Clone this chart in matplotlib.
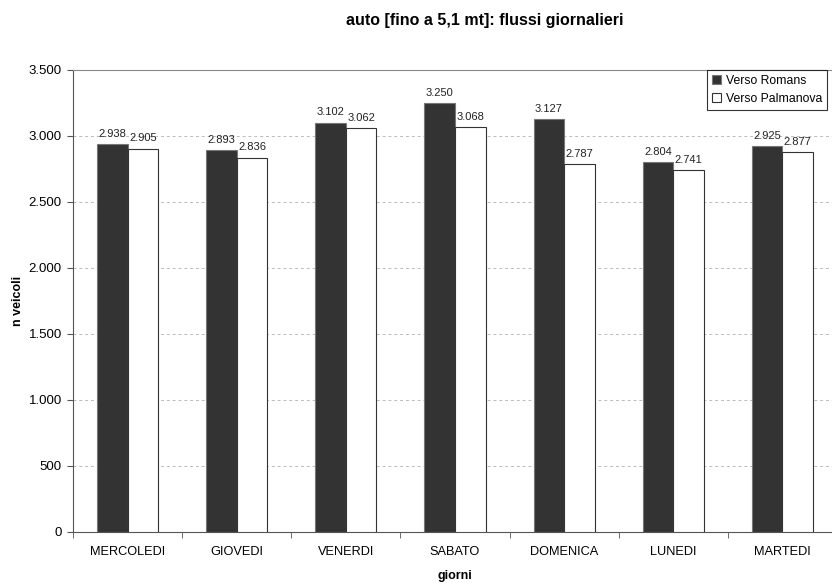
import matplotlib.pyplot as plt
import numpy as np
from matplotlib.ticker import FuncFormatter

plt.rcParams['font.family'] = ['Liberation Sans', 'DejaVu Sans']

giorni = ['MERCOLEDI', 'GIOVEDI', 'VENERDI', 'SABATO', 'DOMENICA', 'LUNEDI', 'MARTEDI']
verso_romans = [2938, 2893, 3102, 3250, 3127, 2804, 2925]
verso_palmanova = [2905, 2836, 3062, 3068, 2787, 2741, 2877]


def fmt_it(v):
    return f"{int(round(v)):,}".replace(',', '.')


fig = plt.figure(figsize=(8.32, 5.83), dpi=100)
ax = fig.add_axes([73 / 832, 51 / 583, 764 / 832, 462 / 583])

x = np.arange(len(giorni))
w = 0.28
b1 = ax.bar(x - w / 2, verso_romans, w, color='#333333', edgecolor='#777777', linewidth=0.8,
            label='Verso Romans', zorder=3)
b2 = ax.bar(x + w / 2, verso_palmanova, w, color='white', edgecolor='#333333', linewidth=0.8,
            label='Verso Palmanova', zorder=3)

for bars in (b1, b2):
    for r in bars:
        ax.text(r.get_x() + r.get_width() / 2, r.get_height() + 40, fmt_it(r.get_height()),
                ha='center', va='bottom', fontsize=8, color='#222222')

ax.set_xlim(-0.5, len(giorni) - 0.5)
ax.set_ylim(0, 3500)
ax.set_yticks(range(0, 3501, 500))
ax.yaxis.set_major_formatter(FuncFormatter(lambda v, p: fmt_it(v)))
ax.set_xticks(x)
ax.set_xticklabels(giorni)
ax.set_xticks(np.arange(-0.5, len(giorni), 1), minor=True)
ax.tick_params(axis='x', which='major', length=0, pad=10, labelsize=9.2)
ax.tick_params(axis='x', which='minor', length=4, color='#555555')
ax.tick_params(axis='y', length=4, color='#555555', labelsize=9.5, pad=4)

ax.yaxis.grid(True, linestyle=(0, (3, 3)), color='#bbbbbb', linewidth=0.7, zorder=0)
for s in ('left', 'bottom'):
    ax.spines[s].set_color('#555555')
ax.spines['top'].set_color('#888888')
ax.spines['right'].set_visible(False)

ax.set_xlabel('giorni', fontsize=9, fontweight='bold', labelpad=9)
ax.set_ylabel('n veicoli', fontsize=9, fontweight='bold', labelpad=3)
fig.text(485 / 832, 1 - 21 / 583, 'auto [fino a 5,1 mt]: flussi giornalieri',
         ha='center', va='center', fontsize=11.5, fontweight='bold')

leg = ax.legend(loc='upper right', bbox_to_anchor=(754 / 764, 1.0), fontsize=8.8,
                frameon=True, fancybox=False, edgecolor='black', handlelength=0.7,
                handleheight=0.7, handletextpad=0.4, borderpad=0.4, labelspacing=0.5,
                borderaxespad=0.0)
leg.get_frame().set_linewidth(0.8)

fig.savefig('out.png', dpi=100)
